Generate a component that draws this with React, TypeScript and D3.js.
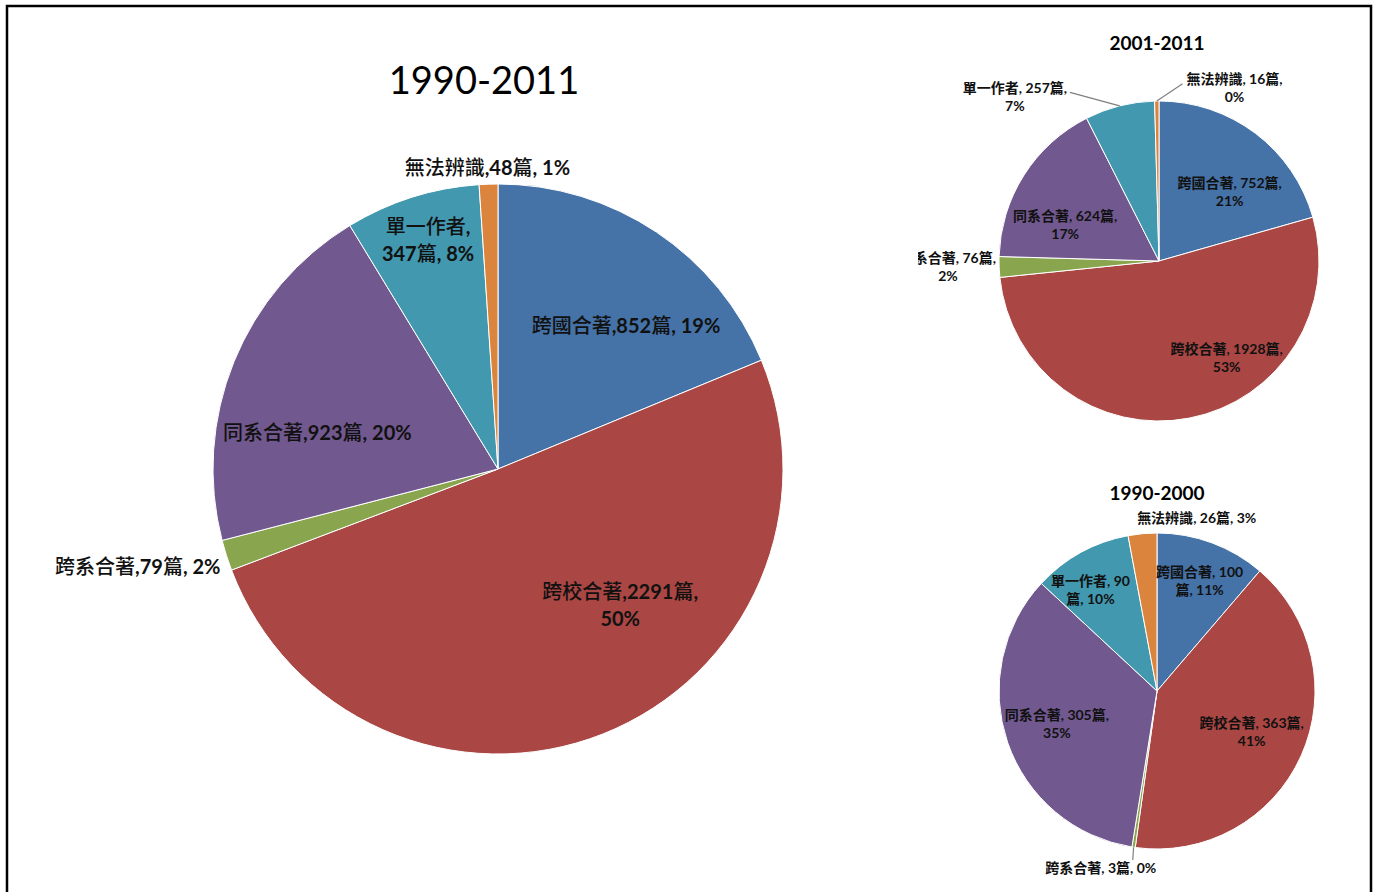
import React from 'react';
import * as d3 from 'd3';

// categories in drawing order (clockwise from 12 o'clock)
const categories = ['跨國合著', '跨校合著', '跨系合著', '同系合著', '單一作者', '無法辨識'];

const counts1990to2011 = [852, 2291, 79, 923, 347, 48];
const pcts1990to2011 = [19, 50, 2, 20, 8, 1];

const counts2001to2011 = [752, 1928, 76, 624, 257, 16];
const pcts2001to2011 = [21, 53, 2, 17, 7, 0];

const counts1990to2000 = [100, 363, 3, 305, 90, 26];
const pcts1990to2000 = [11, 41, 0, 35, 10, 3];

const sliceColors = ['#4572A7', '#AA4643', '#89A54E', '#71588F', '#4198AF', '#DB843D'];

type Split = 'one' | 'pct' | 'cat' | 'num';

interface LabelCfg {
  k: number; // radius fraction for the anchor
  nudge: [number, number];
  split: Split;
  leader?: [number, number]; // leader end, relative to label centre
}

interface PieProps {
  id: string;
  title: string;
  counts: number[];
  pcts: number[];
  cx: number;
  cy: number;
  r: number;
  titleX: number;
  titleY: number;
  titleSize: number;
  titleBold: boolean;
  fontSize: number;
  lineH: number;
  sep: string;
  cjkWeight: number;
  labels: LabelCfg[];
  clipX?: number;
}

const cjkFont = "'Noto Sans CJK TC', 'Noto Sans CJK SC', sans-serif";
const latinFont = "Lato, 'Open Sans', 'Noto Sans', sans-serif";

function labelLines(cat: string, n: number, p: number, split: Split, sep: string) {
  switch (split) {
    case 'pct':
      return [`${cat}${sep}${n}篇,`, `${p}%`];
    case 'cat':
      return [`${cat},`, `${n}篇, ${p}%`];
    case 'num':
      return [`${cat}${sep}${n}`, `篇, ${p}%`];
    default:
      return [`${cat}${sep}${n}篇, ${p}%`];
  }
}

function Runs({ text, cjkWeight }: { text: string; cjkWeight: number }) {
  const parts = text.split(/([\u3400-\u9fff]+)/).filter(s => s.length > 0);
  return (
    <>
      {parts.map((s, i) =>
        /[\u3400-\u9fff]/.test(s) ? (
          <tspan key={i} fontFamily={cjkFont} fontWeight={cjkWeight}>{s}</tspan>
        ) : (
          <tspan key={i} fontFamily={latinFont} fontWeight={700}>{s}</tspan>
        )
      )}
    </>
  );
}

function PieBlock(p: PieProps) {
  const pie = d3.pie<number>().sort(null).value(d => d);
  const arcs = pie(p.counts);
  const arc = d3.arc<d3.PieArcDatum<number>>().innerRadius(0).outerRadius(p.r);
  const polar = (a: number, rad: number): [number, number] => [
    rad * Math.sin(a),
    -rad * Math.cos(a),
  ];

  return (
    <g>
      {p.clipX !== undefined && (
        <clipPath id={`clip-${p.id}`}>
          <rect x={p.clipX} y={0} width={2000} height={2000} />
        </clipPath>
      )}
      <text
        x={p.titleX}
        y={p.titleY}
        dy="0.35em"
        textAnchor="middle"
        fontFamily={latinFont}
        fontWeight={p.titleBold ? 700 : 400}
        fontSize={p.titleSize}
        fill="#000"
      >
        {p.title}
      </text>
      <g transform={`translate(${p.cx},${p.cy})`}>
        {arcs.map((a, i) => (
          <path key={i} d={arc(a) || ''} fill={sliceColors[i]} stroke="#fff" strokeWidth={1} />
        ))}
      </g>
      <g clipPath={p.clipX !== undefined ? `url(#clip-${p.id})` : undefined}>
        {arcs.map((a, i) => {
          const cfg = p.labels[i];
          const mid = (a.startAngle + a.endAngle) / 2;
          const [px, py] = polar(mid, p.r * cfg.k);
          const lx = p.cx + px + cfg.nudge[0];
          const ly = p.cy + py + cfg.nudge[1];
          const lines = labelLines(categories[i], p.counts[i], p.pcts[i], cfg.split, p.sep);
          const y0 = ly - ((lines.length - 1) * p.lineH) / 2 + p.fontSize * 0.36;
          let leader = null;
          if (cfg.leader) {
            const [ex, ey] = polar(mid, p.r);
            leader = (
              <line
                x1={p.cx + ex}
                y1={p.cy + ey}
                x2={lx + cfg.leader[0]}
                y2={ly + cfg.leader[1]}
                stroke="#7f7f7f"
                strokeWidth={1.2}
              />
            );
          }
          return (
            <g key={i}>
              {leader}
              <text textAnchor="middle" fontSize={p.fontSize} fill="#111">
                {lines.map((ln, j) => (
                  <tspan key={j} x={lx} y={y0 + j * p.lineH}>
                    <Runs text={ln} cjkWeight={p.cjkWeight} />
                  </tspan>
                ))}
              </text>
            </g>
          );
        })}
      </g>
    </g>
  );
}

export default function App() {
  const W = 1378;
  const H = 892;
  return (
    <svg
      width={W}
      height={H}
      style={{ position: 'absolute', left: 0, top: 0, background: '#fff' }}
    >
      <rect x={0} y={0} width={W} height={H} fill="#fff" />
      <rect x={7} y={6} width={1364} height={H + 20} fill="none" stroke="#000" strokeWidth={2.5} />

      <PieBlock
        id="all"
        title="1990-2011"
        counts={counts1990to2011}
        pcts={pcts1990to2011}
        cx={498}
        cy={469}
        r={285}
        titleX={484}
        titleY={81}
        titleSize={38}
        titleBold={false}
        fontSize={20}
        lineH={27}
        sep=","
        cjkWeight={500}
        labels={[
          { k: 0.65, nudge: [25, 11], split: 'one' },
          { k: 0.65, nudge: [54, -36], split: 'pct' },
          { k: 1.12, nudge: [-56, 1], split: 'one' },
          { k: 0.65, nudge: [-9, 33], split: 'one' },
          { k: 0.65, nudge: [-14, -52], split: 'cat' },
          { k: 1.12, nudge: [0, 18], split: 'one' },
        ]}
      />

      <PieBlock
        id="late"
        title="2001-2011"
        counts={counts2001to2011}
        pcts={pcts2001to2011}
        cx={1159}
        cy={261}
        r={160}
        titleX={1157}
        titleY={43}
        titleSize={19}
        titleBold={true}
        fontSize={14}
        lineH={18}
        sep=", "
        cjkWeight={700}
        clipX={918}
        labels={[
          { k: 0.65, nudge: [8, 14], split: 'pct' },
          { k: 0.65, nudge: [48, -5], split: 'pct' },
          { k: 1.12, nudge: [-32, -1], split: 'pct' },
          { k: 0.65, nudge: [-6, 20], split: 'pct' },
          { k: 1.12, nudge: [-100, 10], split: 'pct', leader: [55, -5] },
          { k: 1.12, nudge: [78, 6], split: 'pct', leader: [-52, -4] },
        ]}
      />

      <PieBlock
        id="early"
        title="1990-2000"
        counts={counts1990to2000}
        pcts={pcts1990to2000}
        cx={1157}
        cy={691}
        r={158}
        titleX={1157}
        titleY={493}
        titleSize={19}
        titleBold={true}
        fontSize={14}
        lineH={18}
        sep=", "
        cjkWeight={700}
        labels={[
          { k: 0.65, nudge: [7, -14], split: 'num' },
          { k: 0.65, nudge: [1, -1], split: 'pct' },
          { k: 1.12, nudge: [-30, 2], split: 'one', leader: [32, -8] },
          { k: 0.65, nudge: [-3, 0], split: 'pct' },
          { k: 0.65, nudge: [-17, -11], split: 'num' },
          { k: 1.12, nudge: [56, 3], split: 'one' },
        ]}
      />
    </svg>
  );
}
